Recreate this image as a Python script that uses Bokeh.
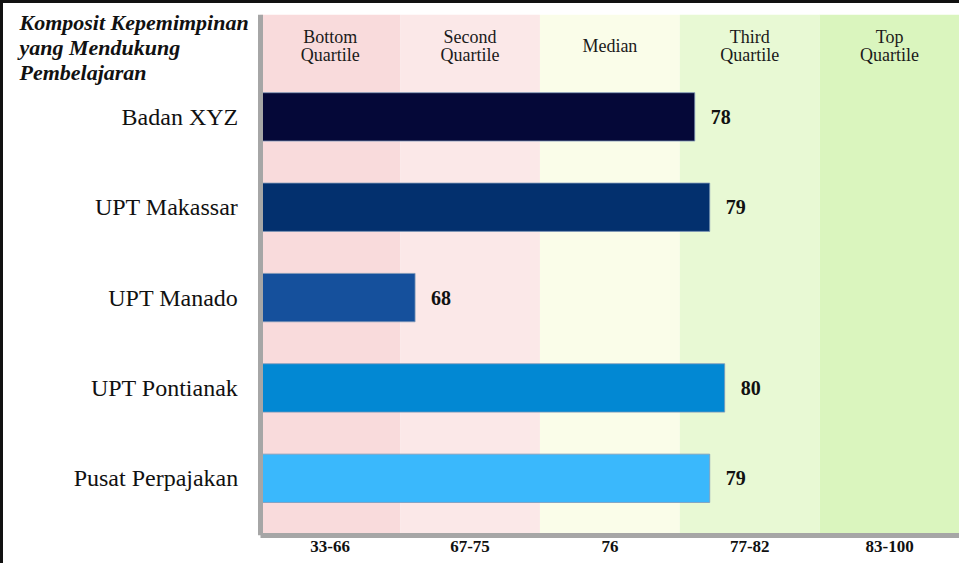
from bokeh.plotting import figure
from bokeh.models import Range1d, FixedTicker, Label
from bokeh.core.properties import value
from bokeh.embed import file_html
from bokeh.resources import INLINE

# ---- data ----
units = ["Badan XYZ", "UPT Makassar", "UPT Manado", "UPT Pontianak", "Pusat Perpajakan"]
scores = [78, 79, 68, 80, 79]
bar_colors = ["#050838", "#03306E", "#15509C", "#0288D3", "#3AB8FC"]

band_names = ["Bottom\nQuartile", "Second\nQuartile", "Median", "Third\nQuartile", "Top\nQuartile"]
band_ranges = ["33-66", "67-75", "76", "77-82", "83-100"]
band_low = [33, 67, 76, 77, 83]
band_colors = ["#F9DBDC", "#FBE8E8", "#FAFDE9", "#E8F9D4", "#DAF5BE"]

title_text = "Komposit Kepemimpinan\nyang Mendukung\nPembelajaran"

UNIT = 0.107  # share of a band per score point, measured from the band's low end


def band_position(v):
    idx = max(i for i, lo in enumerate(band_low) if v >= lo)
    return idx + (v - band_low[idx]) * UNIT


SERIF = value("Liberation Serif")
N = len(band_names)
X_START = -1.836
Y_TOP, Y_BOTTOM = -1.133, 4.633

p = figure(width=959, height=563, output_backend="svg", toolbar_location=None,
           x_range=Range1d(X_START, N), y_range=Range1d(Y_BOTTOM, Y_TOP),
           min_border_left=0, min_border_right=3, min_border_top=11, min_border_bottom=31)
p.styles = {"border-top": "3px solid #111111", "border-left": "3px solid #111111",
            "box-sizing": "border-box"}
p.outline_line_color = None
p.xgrid.visible = False
p.ygrid.visible = False
p.background_fill_color = "white"
p.border_fill_color = "white"

# quartile bands
band_idx = list(range(N))
p.quad(left=band_idx, right=[i + 1 for i in band_idx], bottom=Y_BOTTOM, top=Y_TOP,
       fill_color=band_colors, line_color=None)

# band headers
p.text(x=[i + 0.5 for i in band_idx], y=-0.78, text=band_names,
       text_font=SERIF, text_font_size="18px", text_color="#1a1a1a",
       text_align="center", text_baseline="middle", text_line_height=0.9)

# bars
ypos = list(range(len(units)))
ends = [band_position(v) for v in scores]
p.hbar(y=ypos, left=0, right=ends, height=0.535, fill_color=bar_colors,
       line_color="#7f98b8", line_width=0.8)

# value labels
p.text(x=ends, y=ypos, text=[str(v) for v in scores], x_offset=16,
       text_font=SERIF, text_font_size="20px", text_font_style="bold",
       text_color="#111111", text_align="left", text_baseline="middle")

# axes
p.xaxis.ticker = FixedTicker(ticks=[i + 0.5 for i in band_idx])
p.xaxis.major_label_overrides = {i + 0.5: band_ranges[i] for i in band_idx}
p.xaxis.bounds = (0, N)
p.yaxis.ticker = FixedTicker(ticks=ypos)
p.yaxis.major_label_overrides = {i: units[i] for i in ypos}
p.yaxis.fixed_location = 0
p.yaxis.bounds = (Y_TOP, Y_BOTTOM)
for ax in (p.xaxis, p.yaxis):
    ax.axis_line_color = "#A6A6A6"
    ax.axis_line_width = 5
    ax.major_tick_line_color = None
    ax.minor_tick_line_color = None
    ax.major_label_text_font = "Liberation Serif"
    ax.major_label_text_color = "#111111"
p.xaxis.major_label_text_font_size = "17px"
p.xaxis.major_label_text_font_style = "bold"
p.xaxis.major_label_standoff = -1
p.yaxis.major_label_text_font_size = "24px"
p.yaxis.major_label_standoff = 16

# chart title in the upper left
p.add_layout(Label(x=16, y=Y_TOP, x_units="screen", y_units="data", text=title_text,
                   y_offset=5, text_font="Liberation Serif",
                   text_font_size="22px", text_font_style="bold italic",
                   text_color="#111111", text_baseline="top", text_line_height=1.0))

open("out.html", "w").write(file_html(p, INLINE))
